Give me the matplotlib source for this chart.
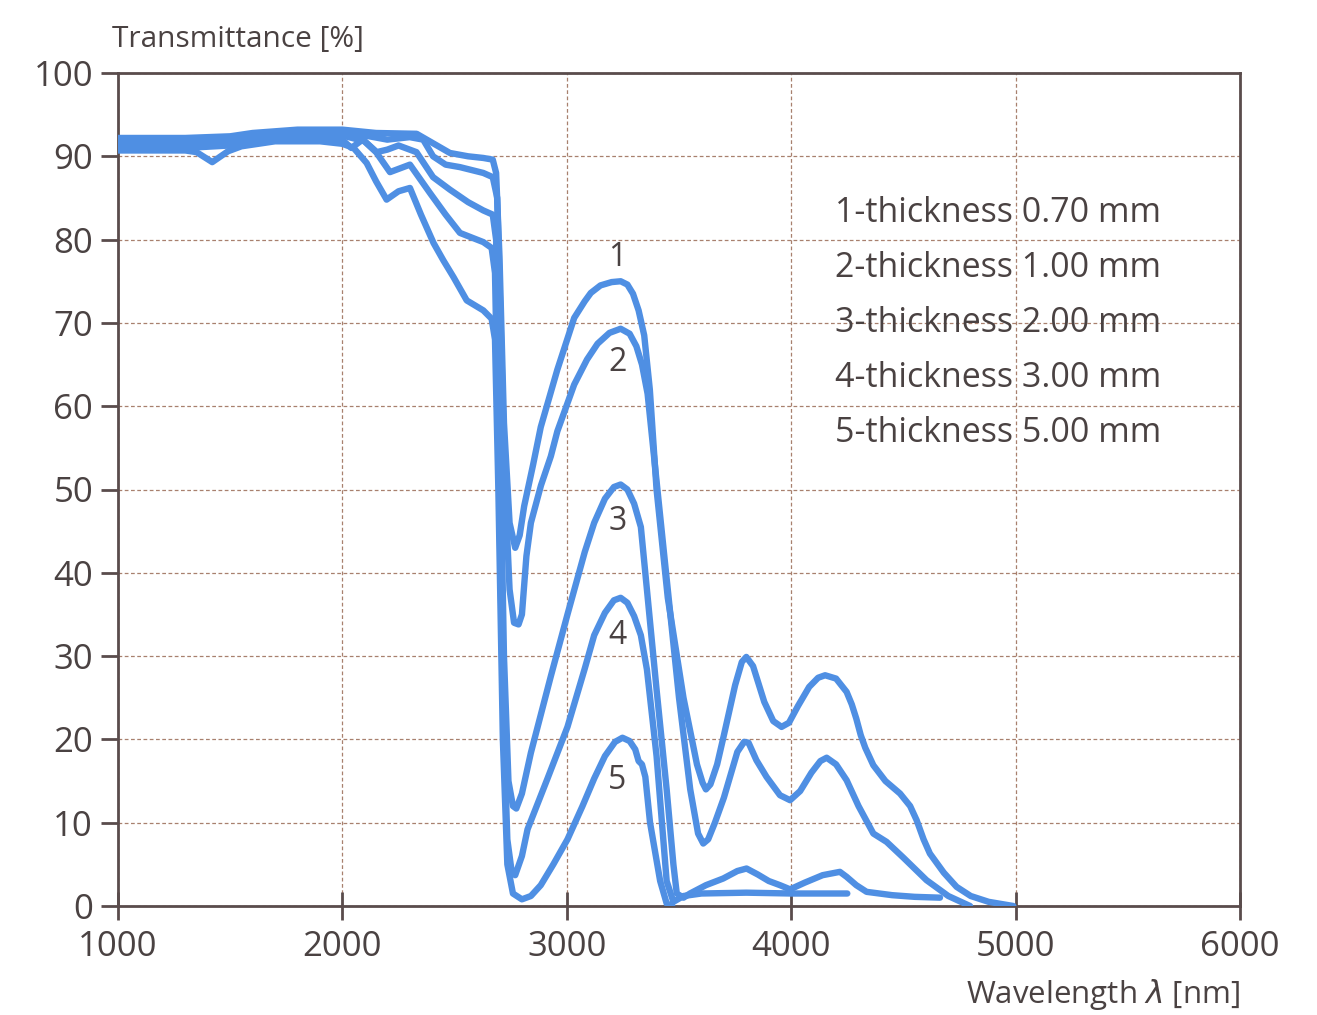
import matplotlib
matplotlib.use("Agg")
import matplotlib.pyplot as plt

plt.rcParams['font.family'] = ['Open Sans', 'DejaVu Sans']

# ---------------- data ----------------
x1 = [1000, 1300, 1500, 1600, 1800, 2000, 2150, 2331, 2479, 2560, 2628, 2670, 2685, 2700, 2720, 2745,
      2770, 2790, 2810, 2850, 2884, 2958, 3033, 3080, 3107, 3150, 3200, 3240, 3270, 3295, 3320, 3345,
      3370, 3400, 3450, 3520, 3580, 3605, 3620, 3640, 3670, 3700, 3750, 3780, 3800, 3830, 3880, 3920,
      3957, 3990, 4030, 4080, 4120, 4151, 4200, 4247, 4270, 4290, 4310, 4330, 4366, 4420, 4485, 4530,
      4559, 4590, 4618, 4680, 4737, 4800, 4880, 4990]
y1 = [92.2, 92.2, 92.4, 92.8, 93.2, 93.2, 92.8, 92.7, 90.4, 90.0, 89.8, 89.6, 88.0, 78.0, 58.0, 46.0,
      43.0, 44.5, 48.0, 53.0, 57.5, 64.4, 70.6, 72.6, 73.6, 74.5, 74.9, 75.0, 74.6, 73.5, 71.5, 68.5,
      62.0, 50.0, 37.0, 25.0, 17.0, 14.8, 14.0, 14.6, 17.0, 20.5, 26.5, 29.3, 29.9, 28.8, 24.5, 22.2,
      21.5, 22.0, 24.0, 26.3, 27.4, 27.7, 27.3, 25.7, 24.2, 22.5, 20.5, 19.0, 16.9, 15.0, 13.5, 12.0,
      10.3, 8.0, 6.3, 4.0, 2.3, 1.2, 0.5, 0.0]

x2 = [1000, 1300, 1500, 1600, 1800, 2000, 2100, 2200, 2300, 2360, 2404, 2460, 2524, 2628, 2670, 2690,
      2705, 2725, 2745, 2765, 2785, 2800, 2820, 2840, 2885, 2929, 2958, 3033, 3090, 3137, 3190, 3240,
      3280, 3310, 3335, 3360, 3400, 3450, 3500, 3550, 3585, 3608, 3630, 3660, 3700, 3760, 3790, 3810,
      3830, 3845, 3890, 3950, 3995, 4040, 4090, 4130, 4158, 4200, 4247, 4300, 4366, 4425, 4500, 4603,
      4700, 4797]
y2 = [91.8, 91.8, 92.0, 92.5, 92.9, 92.9, 92.5, 92.0, 92.3, 92.0, 90.0, 89.0, 88.7, 88.0, 87.5, 85.0,
      70.0, 50.0, 38.0, 34.0, 33.8, 35.0, 42.0, 46.0, 50.5, 54.0, 57.0, 62.6, 65.6, 67.5, 68.8, 69.3,
      68.7, 67.2, 65.0, 61.5, 51.0, 38.0, 25.0, 14.0, 8.7, 7.5, 8.0, 10.0, 13.0, 18.5, 19.7, 19.6,
      18.4, 17.5, 15.5, 13.3, 12.7, 13.8, 16.0, 17.4, 17.8, 17.0, 15.1, 12.0, 8.7, 7.7, 5.8, 3.1,
      1.2, 0.0]

x3 = [1000, 1300, 1500, 1600, 1800, 2000, 2100, 2153, 2200, 2250, 2330, 2404, 2479, 2560, 2628, 2670,
      2685, 2700, 2720, 2740, 2760, 2775, 2800, 2840, 2929, 3003, 3080, 3122, 3170, 3210, 3240, 3270,
      3300, 3330, 3357, 3400, 3445, 3475, 3490, 3520, 3549, 3620, 3697, 3760, 3801, 3850, 3900, 3950,
      3995, 4060, 4140, 4217, 4247, 4290, 4336, 4450, 4550, 4663]
y3 = [91.3, 91.3, 91.6, 92.1, 92.5, 92.5, 91.8, 90.5, 90.8, 91.3, 90.5, 87.5, 86.0, 84.5, 83.5, 83.0,
      80.0, 60.0, 30.0, 15.0, 12.0, 11.7, 13.5, 18.4, 27.6, 35.0, 42.5, 46.0, 48.9, 50.3, 50.6, 50.0,
      48.3, 45.5, 38.0, 26.0, 14.0, 5.0, 1.5, 1.0, 1.5, 2.5, 3.3, 4.2, 4.5, 3.8, 3.0, 2.5,
      2.0, 2.8, 3.7, 4.1, 3.5, 2.5, 1.7, 1.3, 1.1, 1.0]

x4 = [1000, 1300, 1500, 1600, 1800, 1990, 2040, 2090, 2150, 2212, 2301, 2390, 2460, 2524, 2628, 2665,
      2680, 2695, 2715, 2735, 2755, 2770, 2800, 2825, 2914, 3003, 3080, 3122, 3170, 3210, 3240, 3270,
      3300, 3330, 3357, 3400, 3445, 3475, 3520, 3600, 3800, 4000, 4250]
y4 = [91.0, 91.0, 91.3, 91.8, 92.2, 92.2, 91.0, 92.0, 90.5, 88.1, 89.0, 85.6, 83.0, 80.8, 79.7, 79.0,
      76.0, 55.0, 25.0, 8.0, 4.0, 3.7, 6.0, 9.2, 15.3, 21.5, 28.5, 32.5, 35.2, 36.7, 37.0, 36.4,
      34.8, 32.5, 28.4, 18.0, 3.0, 0.5, 1.2, 1.5, 1.6, 1.5, 1.5]

x5 = [1000, 1300, 1350, 1420, 1490, 1550, 1700, 1900, 2000, 2050, 2108, 2150, 2197, 2250, 2301, 2350,
      2406, 2450, 2495, 2554, 2628, 2665, 2680, 2695, 2715, 2735, 2760, 2800, 2840, 2884, 2940, 3003,
      3070, 3122, 3170, 3215, 3248, 3280, 3305, 3320, 3335, 3350, 3371, 3416, 3445, 3470]
y5 = [90.7, 90.7, 90.5, 89.3, 90.6, 91.2, 91.8, 91.8, 91.5, 91.0, 89.2, 87.0, 84.8, 85.8, 86.2, 83.0,
      79.6, 77.5, 75.5, 72.7, 71.5, 70.5, 68.0, 50.0, 20.0, 5.0, 1.5, 0.8, 1.2, 2.5, 5.0, 8.0,
      12.0, 15.3, 18.0, 19.7, 20.2, 19.8, 18.8, 17.4, 17.0, 15.5, 10.0, 3.0, 0.3, 0.0]

series_x = [x1, x2, x3, x4, x5]
series_y = [y1, y2, y3, y4, y5]

curve_labels = ['1', '2', '3', '4', '5']
curve_label_x = [3225, 3225, 3225, 3225, 3225]
curve_label_y = [77.8, 65.3, 46.1, 32.5, 15.1]

legend_lines = ['1-thickness 0.70 mm', '2-thickness 1.00 mm', '3-thickness 2.00 mm',
                '4-thickness 3.00 mm', '5-thickness 5.00 mm']

x_ticks = [1000, 2000, 3000, 4000, 5000, 6000]
y_ticks = [0, 10, 20, 30, 40, 50, 60, 70, 80, 90, 100]

# ---------------- styling ----------------
W, H = 1317, 1015
line_color = '#4f8fe3'
text_color = '#4a4242'
spine_color = '#5a4c4c'
grid_color = '#a8806e'

fig = plt.figure(figsize=(W / 100, H / 100), dpi=100)
ax = fig.add_axes([118 / W, 1 - 906 / H, (1240 - 118) / W, (906 - 73) / H])

for xs, ys in zip(series_x, series_y):
    ax.plot(xs, ys, color=line_color, lw=4.6, solid_joinstyle='round', solid_capstyle='round',
            zorder=3)

ax.set_xlim(1000, 6000)
ax.set_ylim(0, 100)
ax.set_xticks(x_ticks)
ax.set_yticks(y_ticks)
ax.set_xticklabels([str(v) for v in x_ticks])
ax.set_yticklabels([str(v) for v in y_ticks])

ax.grid(True, color=grid_color, lw=0.9, linestyle=(0, (3, 2)), zorder=1)
for s in ax.spines.values():
    s.set_color(spine_color)
    s.set_linewidth(2.0)

ax.tick_params(axis='x', direction='inout', length=20, width=2, color=spine_color,
               labelsize=25, labelcolor=text_color, pad=7)
ax.tick_params(axis='y', direction='out', length=12, width=2, color=spine_color,
               labelsize=25, labelcolor=text_color, pad=6)

for lab, lx, ly in zip(curve_labels, curve_label_x, curve_label_y):
    ax.text(lx, ly, lab, fontsize=23, color=text_color, ha='center', va='center', zorder=4)

for i, t in enumerate(legend_lines):
    fig.text(835 / W, 1 - (213 + 55 * i) / H, t, fontsize=24.5, color=text_color,
             ha='left', va='center')

fig.text(112 / W, 1 - 40 / H, 'Transmittance [%]', fontsize=21.5, color=text_color,
         ha='left', va='center')
fig.text(1240 / W, 1 - 995 / H, 'Wavelength $\\lambda$ [nm]', fontsize=22.5, color=text_color,
         ha='right', va='center')

fig.savefig('out.png', dpi=100, facecolor='white')
